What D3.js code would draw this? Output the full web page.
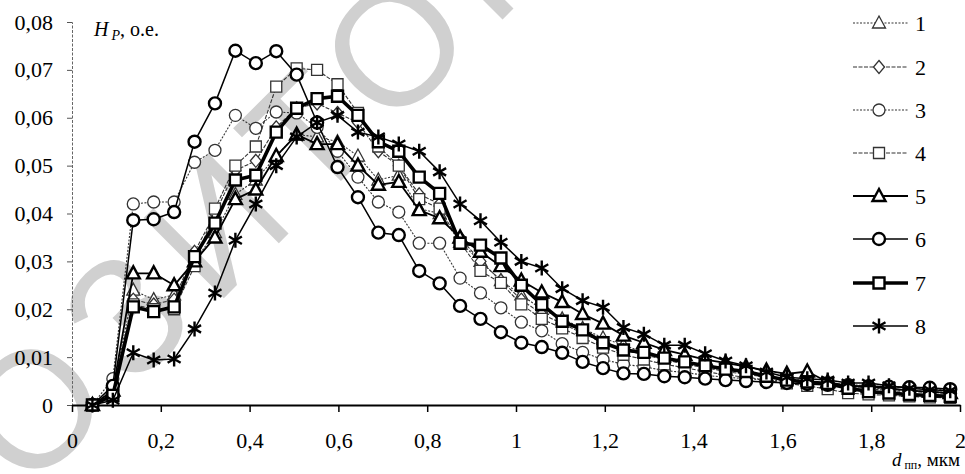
<!DOCTYPE html>
<html><head><meta charset="utf-8">
<script src="https://cdn.jsdelivr.net/npm/d3@7"></script>
<style>body{margin:0;background:#fff}</style>
</head><body>
<svg id="c" width="965" height="474"></svg>
<script>
// ---- data ----
const xVals = [0.046,0.092,0.138,0.184,0.23,0.276,0.322,0.368,0.414,0.46,0.506,0.552,0.598,0.644,0.69,0.736,0.782,0.828,0.874,0.92,0.966,1.012,1.058,1.104,1.15,1.196,1.242,1.288,1.334,1.38,1.426,1.472,1.518,1.564,1.61,1.656,1.702,1.748,1.794,1.84,1.886,1.932,1.978];
const s1 = [0,0.003,0.024,0.022,0.023,0.03,0.036,0.044,0.047,0.052,0.0565,0.056,0.055,0.052,0.047,0.048,0.041,0.040,0.034,0.030,0.026,0.023,0.020,0.018,0.016,0.014,0.0125,0.011,0.010,0.009,0.0082,0.0075,0.0068,0.006,0.0055,0.005,0.0045,0.004,0.0036,0.0032,0.003,0.0028,0.0026];
const s2 = [0,0.003,0.022,0.021,0.022,0.032,0.040,0.049,0.051,0.058,0.062,0.063,0.061,0.059,0.053,0.050,0.044,0.042,0.035,0.030,0.026,0.022,0.019,0.017,0.015,0.013,0.0115,0.0105,0.0095,0.0085,0.0078,0.007,0.0064,0.0058,0.0052,0.0048,0.0043,0.0038,0.0034,0.003,0.0028,0.0026,0.0024];
const s3 = [0,0.0055,0.042,0.0424,0.0424,0.0507,0.0532,0.0605,0.0578,0.0612,0.061,0.058,0.053,0.0476,0.0424,0.0403,0.0338,0.0338,0.0265,0.0234,0.0203,0.0173,0.0155,0.0128,0.011,0.0095,0.0085,0.008,0.0072,0.0068,0.0062,0.0058,0.0055,0.0052,0.005,0.0047,0.0045,0.0043,0.004,0.0038,0.0036,0.0034,0.0032];
const s4 = [0,0.003,0.021,0.020,0.020,0.029,0.041,0.050,0.054,0.0665,0.0703,0.070,0.067,0.061,0.054,0.050,0.043,0.041,0.034,0.028,0.0255,0.021,0.018,0.016,0.014,0.012,0.0105,0.0095,0.0085,0.0078,0.007,0.0063,0.0058,0.0052,0.0045,0.004,0.0033,0.0025,0.0022,0.002,0.0018,0.0016,0.0015];
const s5 = [0,0.003,0.0275,0.0275,0.025,0.030,0.035,0.043,0.045,0.052,0.0565,0.0545,0.0545,0.050,0.046,0.0466,0.0407,0.039,0.035,0.032,0.029,0.026,0.0235,0.0215,0.019,0.017,0.0145,0.013,0.0115,0.0105,0.0095,0.0088,0.008,0.0072,0.0065,0.007,0.0048,0.004,0.0038,0.0035,0.003,0.0028,0.0025];
const s6 = [0,0.004,0.0386,0.0388,0.0403,0.055,0.063,0.074,0.0714,0.0739,0.069,0.059,0.0497,0.0434,0.036,0.0355,0.028,0.0254,0.0207,0.018,0.0152,0.013,0.0121,0.0109,0.009,0.0077,0.0066,0.0065,0.006,0.0058,0.0055,0.0052,0.005,0.0048,0.0046,0.0044,0.0042,0.004,0.0039,0.0038,0.0037,0.0036,0.0033];
const s7 = [0,0.002,0.0205,0.0195,0.0205,0.031,0.038,0.047,0.048,0.057,0.062,0.064,0.0645,0.0605,0.055,0.053,0.0476,0.0442,0.0338,0.0334,0.0307,0.025,0.021,0.0175,0.0157,0.013,0.0115,0.011,0.0098,0.009,0.0082,0.0075,0.007,0.006,0.0052,0.0048,0.0045,0.0035,0.0028,0.0025,0.0022,0.002,0.0018];
const s8 = [0,0.001,0.0109,0.0094,0.0096,0.0159,0.0234,0.0344,0.042,0.050,0.056,0.059,0.0605,0.057,0.056,0.0545,0.053,0.0487,0.042,0.0385,0.034,0.030,0.0286,0.0243,0.0218,0.0204,0.0162,0.0148,0.0125,0.0125,0.0107,0.0092,0.0082,0.0069,0.0058,0.0055,0.0052,0.0046,0.0046,0.004,0.0035,0.0032,0.003];
const seriesNames = ["1","2","3","4","5","6","7","8"];
const xTicks = [0,0.2,0.4,0.6,0.8,1,1.2,1.4,1.6,1.8,2];
const xTickLabels = ["0","0,2","0,4","0,6","0,8","1","1,2","1,4","1,6","1,8","2"];
const yTicks = [0,0.01,0.02,0.03,0.04,0.05,0.06,0.07,0.08];
const yTickLabels = ["0","0,01","0,02","0,03","0,04","0,05","0,06","0,07","0,08"];
const watermarkText = "РЕПОЗИТОРИЙ";

// ---- styles ----
const series = [
  {v:s1, m:"tri",  lw:1.1, dash:"2,1.5", mw:1.3, col:"#333"},
  {v:s2, m:"dia",  lw:1.1, dash:"4,1.5", mw:1.3, col:"#333"},
  {v:s3, m:"circ", lw:1.1, dash:"2,1.5", mw:1.3, col:"#333"},
  {v:s4, m:"sq",   lw:1.1, dash:"4,1.5", mw:1.3, col:"#333"},
  {v:s5, m:"tri",  lw:1.8, dash:null,    mw:2.4, col:"#000"},
  {v:s6, m:"circ", lw:1.5, dash:null,    mw:2.4, col:"#000"},
  {v:s7, m:"sq",   lw:3.6, dash:null,    mw:2.4, col:"#000"},
  {v:s8, m:"ast",  lw:1.5, dash:null,    mw:2.4, col:"#000"}
];
const shapes = {
  tri: "M0,-7L6.5,5L-6.5,5Z",
  dia: "M0,-6.5L5.5,0L0,6.5L-5.5,0Z",
  circ: "M6,0A6,6 0 1,1 -6,0A6,6 0 1,1 6,0Z",
  sq: "M-5.5,-5.5H5.5V5.5H-5.5Z",
  ast: "M0,-7.5V7.5M-6.5,-3.75L6.5,3.75M-6.5,3.75L6.5,-3.75"
};

const svg = d3.select("#c");
const x = d3.scaleLinear().domain([0,2]).range([72,960]);
const y = d3.scaleLinear().domain([0,0.08]).range([405,22]);
const serif = "'Liberation Serif','Times New Roman',serif";

// watermark (light grey, rotated, behind the chart)
const wmSize = 165;
const wm = svg.append("text").text(watermarkText)
  .attr("font-family","'Liberation Sans',Arial,sans-serif")
  .attr("font-size",wmSize).attr("letter-spacing",18).attr("fill","#d0d0d0");
(function(){
  const node = wm.node();
  const sx = node.getStartPositionOfChar(7).x, ex = node.getEndPositionOfChar(7).x;
  const along = (sx + ex)/2 - 9;
  const capH = 0.72*wmSize;
  const a = -45*Math.PI/180, cx = 393, cy = 45;
  const bx = cx - capH/2*Math.sin(a), by = cy + capH/2*Math.cos(a);
  const ox = bx - along*Math.cos(a), oy = by - along*Math.sin(a);
  wm.attr("transform",`translate(${ox},${oy}) rotate(-45)`);
})();

// y axis
const ya = svg.append("g").attr("transform","translate(72,0)")
  .call(d3.axisLeft(y).tickValues(yTicks).tickFormat((d,i)=>yTickLabels[i]).tickSize(5).tickPadding(14));
ya.select(".domain").attr("stroke","#666").attr("stroke-width",1).attr("stroke-dasharray","3,1.5");
ya.selectAll(".tick line").attr("stroke","#555");
ya.selectAll("text").attr("font-family",serif).attr("font-size",22).attr("fill","#000");

// x axis
const xa = svg.append("g").attr("transform","translate(0,405)")
  .call(d3.axisBottom(x).tickValues(xTicks).tickFormat((d,i)=>xTickLabels[i]).tickSize(7).tickPadding(20).tickSizeOuter(0));
xa.select(".domain").attr("stroke","#000").attr("stroke-width",2.2);
xa.selectAll(".tick line").attr("stroke","#000").attr("stroke-width",1.5);
xa.selectAll("text").attr("font-family",serif).attr("font-size",22).attr("fill","#000");

// series
const line = d3.line().x((d,i)=>x(xVals[i])).y(d=>y(d));
series.forEach(s=>{
  const g = svg.append("g");
  g.append("path").attr("d",line(s.v)).attr("fill","none").attr("stroke",s.col)
    .attr("stroke-width",s.lw).attr("stroke-dasharray",s.dash).attr("stroke-linejoin","round");
  g.selectAll("path.m").data(s.v).join("path").attr("class","m")
    .attr("d",shapes[s.m]).attr("transform",(d,i)=>`translate(${x(xVals[i])},${y(d)})`)
    .attr("fill",s.m==="ast"?"none":"#fff").attr("stroke",s.col).attr("stroke-width",s.mw);
});

// legend
const legY = [23,67,110,153,196,239,283,326];
series.forEach((s,i)=>{
  const g = svg.append("g").attr("transform",`translate(0,${legY[i]})`);
  g.append("line").attr("x1",853).attr("x2",908).attr("y1",0).attr("y2",0)
    .attr("stroke",s.col).attr("stroke-width",s.lw).attr("stroke-dasharray",s.dash);
  g.append("path").attr("d",shapes[s.m]).attr("transform","translate(879,0)")
    .attr("fill",s.m==="ast"?"none":"#fff").attr("stroke",s.col).attr("stroke-width",s.mw);
  g.append("text").attr("x",915).attr("y",7.5).text(seriesNames[i])
    .attr("font-family",serif).attr("font-size",22).attr("fill","#000");
});

// axis titles
const yt = svg.append("text").attr("x",94).attr("y",36).attr("font-family",serif).attr("font-size",20).attr("fill","#000");
yt.append("tspan").attr("font-style","italic").text("H");
yt.append("tspan").attr("font-style","italic").attr("font-size",14).attr("dy",4).attr("dx",3).text("P");
yt.append("tspan").attr("dy",-4).text(", о.е.");

const xt = svg.append("text").attr("x",960).attr("y",466).attr("text-anchor","end").attr("font-family",serif).attr("font-size",19).attr("fill","#000");
xt.append("tspan").attr("font-style","italic").text("d");
xt.append("tspan").attr("font-size",12).attr("dy",3).attr("dx",3).text("пп");
xt.append("tspan").attr("dy",-3).text(", мкм");
</script>
</body></html>
